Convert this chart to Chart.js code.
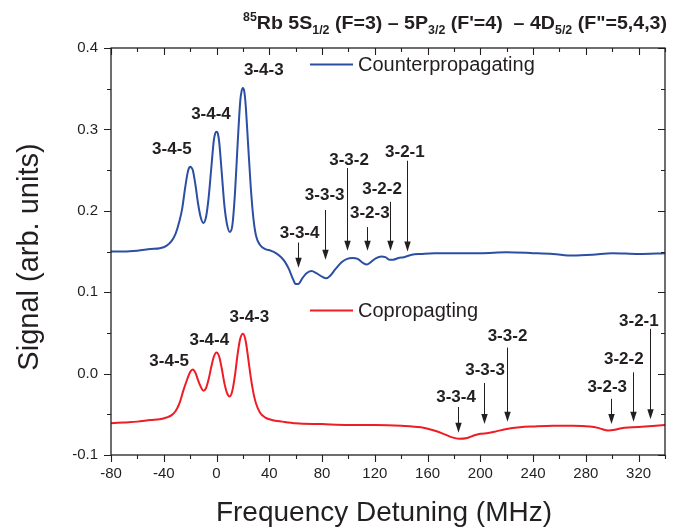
<!DOCTYPE html>
<html><head><meta charset="utf-8">
<script src="https://cdn.jsdelivr.net/npm/chart.js@4/dist/chart.umd.min.js"></script>
<style>html,body{margin:0;padding:0;background:#fff}#wrap{width:675px;height:532px}</style>
</head><body><div id="wrap"><canvas id="c" width="675" height="532"></canvas></div>
<script>
// ---- axis ticks ----
const xTicks = [-80, -40, 0, 40, 80, 120, 160, 200, 240, 280, 320];
const yTicks = [-0.1, 0.0, 0.1, 0.2, 0.3, 0.4];

// ---- Counterpropagating series ----
const freqCounter = [-80,-70,-60,-50,-43,-38,-34,-31,-28,-26,-24,-22,-21,-20,-19,-18,-16,-14,-12,-10,-8,-6,-4,-2,-1,0,1,2,4,6,8,10,12,14,16,18,19,20,21,22,24,26,28,30,33,37,41,45,49,52,55,58,60,62,65,68,72,76,80,83,86,90,95,99,103,107,111,114,117,121,125,128,131,134,138,142,148,155,165,180,200,220,240,255,270,285,300,320,340];
const signalCounter = [0.150,0.150,0.151,0.153,0.154,0.157,0.163,0.172,0.188,0.203,0.226,0.246,0.252,0.254,0.253,0.250,0.232,0.209,0.192,0.185,0.192,0.216,0.252,0.287,0.295,0.297,0.295,0.285,0.246,0.206,0.183,0.174,0.182,0.222,0.282,0.335,0.347,0.351,0.347,0.332,0.280,0.228,0.190,0.169,0.158,0.153,0.151,0.148,0.143,0.137,0.128,0.116,0.110,0.110,0.117,0.123,0.126,0.123,0.119,0.117,0.120,0.128,0.137,0.141,0.142,0.141,0.136,0.134,0.137,0.142,0.144,0.143,0.140,0.140,0.142,0.143,0.146,0.147,0.148,0.148,0.148,0.149,0.148,0.147,0.145,0.146,0.148,0.147,0.148];

// ---- Copropagating series ----
const freqCo = [-80,-70,-60,-50,-43,-38,-34,-31,-28,-25,-22,-20,-18,-16,-14,-12,-10,-8,-6,-4,-2,0,2,4,6,8,10,12,14,16,18,20,22,24,26,28,30,33,37,42,50,60,80,100,120,140,155,165,172,178,184,190,195,200,206,212,220,230,240,255,270,283,290,297,302,307,315,325,333,340];
const signalCo = [-0.061,-0.060,-0.059,-0.057,-0.056,-0.054,-0.051,-0.046,-0.036,-0.020,-0.006,0.002,0.005,0.001,-0.008,-0.016,-0.021,-0.018,-0.007,0.008,0.021,0.026,0.021,0.006,-0.012,-0.024,-0.028,-0.021,-0.002,0.024,0.043,0.049,0.041,0.019,-0.005,-0.024,-0.037,-0.048,-0.054,-0.057,-0.059,-0.061,-0.062,-0.063,-0.063,-0.064,-0.066,-0.070,-0.074,-0.078,-0.080,-0.079,-0.076,-0.074,-0.073,-0.071,-0.068,-0.066,-0.065,-0.064,-0.064,-0.065,-0.067,-0.070,-0.069,-0.067,-0.066,-0.065,-0.064,-0.063];

// ---- peak labels (text, MHz, signal) ----
const counterPeakText = ['3-4-5','3-4-4','3-4-3'];
const counterPeakX = [-33.8, -4.2, 35.8];
const counterPeakY = [0.275, 0.318, 0.372];
const coPeakText = ['3-4-5','3-4-4','3-4-3'];
const coPeakX = [-35.9, -5.5, 24.9];
const coPeakY = [0.015, 0.041, 0.069];

// ---- arrow annotations ----
const counterArrowText = ['3-3-4','3-3-3','3-3-2','3-2-3','3-2-2','3-2-1'];
const counterArrowX = [61.8, 82.0, 99.0, 114.3, 131.6, 144.3];
const counterArrowTop = [0.161, 0.201, 0.2525, 0.180, 0.211, 0.2615];
const counterArrowTip = [0.130, 0.140, 0.151, 0.151, 0.151, 0.150];
const counterArrowTextX = [63.0, 82.0, 100.5, 116.2, 125.5, 142.8];
const counterArrowTextY = [0.172, 0.219, 0.2615, 0.197, 0.2265, 0.272];

const coArrowText = ['3-3-4','3-3-3','3-3-2','3-2-3','3-2-2','3-2-1'];
const coArrowX = [183.0, 202.5, 220.3, 299.0, 316.0, 328.5];
const coArrowTop = [-0.041, -0.0115, 0.032, -0.031, 0.0016, 0.055];
const coArrowTip = [-0.0726, -0.062, -0.059, -0.062, -0.059, -0.056];
const coArrowTextX = [181.6, 203.6, 220.6, 296.2, 308.8, 320.2];
const coArrowTextY = [-0.029, 0.004, 0.046, -0.0165, 0.018, 0.0647];

const seriesNames = ['Counterpropagating', 'Copropagting'];
const seriesColors = ['#2c4fa3', '#ee1c24'];

const FONT = '"Liberation Sans", Arial, Helvetica, sans-serif';
const INK = '#231f20';

function pts(xs, ys){ return xs.map((x,i)=>({x:x, y:ys[i]})); }

const decor = {
  id: 'decor',
  afterDatasetsDraw(chart){
    const ctx = chart.ctx, a = chart.chartArea;
    const xs = chart.scales.x, ys = chart.scales.y;
    ctx.save();
    // frame
    ctx.strokeStyle = INK; ctx.lineWidth = 1.3;
    ctx.strokeRect(a.left, a.top, a.right - a.left, a.bottom - a.top);
    // ticks
    ctx.lineWidth = 1.1;
    ctx.beginPath();
    for (let v = xs.min; v <= xs.max + 1e-9; v += 20) {
      const major = xTicks.indexOf(v) >= 0;
      const L = major ? 7 : 4;
      const p = Math.round(xs.getPixelForValue(v)) + 0.5;
      ctx.moveTo(p, a.bottom); ctx.lineTo(p, a.bottom + L);
      ctx.moveTo(p, a.top); ctx.lineTo(p, a.top + L);
    }
    for (let k = 0; k <= 10; k++) {
      const v = ys.min + k * 0.05;
      const major = k % 2 === 0;
      const L = major ? 7 : 4;
      const p = Math.round(ys.getPixelForValue(v)) + 0.5;
      ctx.moveTo(a.left, p); ctx.lineTo(a.left - L, p);
      ctx.moveTo(a.right, p); ctx.lineTo(a.right - L, p);
    }
    ctx.stroke();

    // title (fit between x=243 and x=667)
    const segs = [
      {t:'85', k:'sup'}, {t:'Rb 5S'}, {t:'1/2', k:'sub'}, {t:' (F=3) \u2013 5P'},
      {t:'3/2', k:'sub'}, {t:' (F\'=4)  \u2013 4D'}, {t:'5/2', k:'sub'}, {t:' (F"=5,4,3)'}
    ];
    const big = 'bold 19px ' + FONT, small = 'bold 12px ' + FONT;
    let W = 0;
    segs.forEach(s => { ctx.font = s.k ? small : big; W += ctx.measureText(s.t).width; });
    ctx.save();
    ctx.translate(243, 29);
    ctx.scale(424 / W, 1);
    ctx.fillStyle = INK; ctx.textBaseline = 'alphabetic'; ctx.textAlign = 'left';
    let x = 0;
    segs.forEach(s => {
      ctx.font = s.k ? small : big;
      const dy = s.k === 'sub' ? 5 : (s.k === 'sup' ? -8 : 0);
      ctx.fillText(s.t, x, dy);
      x += ctx.measureText(s.t).width;
    });
    ctx.restore();

    // axis titles
    ctx.fillStyle = INK;
    ctx.font = '28px ' + FONT;
    ctx.textAlign = 'center'; ctx.textBaseline = 'middle';
    ctx.fillText('Frequency Detuning (MHz)', (a.left + a.right) / 2 - 4, 513);
    ctx.save();
    ctx.translate(30, 257); ctx.rotate(-Math.PI/2);
    ctx.font = '29px ' + FONT;
    ctx.fillText('Signal (arb. units)', 0, 0);
    ctx.restore();

    // legends
    const legY = [ys.getPixelForValue(0.380), ys.getPixelForValue(0.0785)];
    chart.data.datasets.forEach((d, i) => {
      const y = Math.round(legY[i]) + 0.5;
      ctx.strokeStyle = d.borderColor; ctx.lineWidth = 2;
      ctx.beginPath(); ctx.moveTo(310, y); ctx.lineTo(353, y); ctx.stroke();
      ctx.fillStyle = INK; ctx.font = '20px ' + FONT;
      ctx.textAlign = 'left'; ctx.textBaseline = 'middle';
      ctx.fillText(d.label, 358, y + 1);
    });

    // labels
    ctx.font = 'bold 17px ' + FONT;
    ctx.textAlign = 'center'; ctx.textBaseline = 'middle'; ctx.fillStyle = INK;
    const put = (txt, xv, yv) => txt.forEach((t, i) =>
      ctx.fillText(t, xs.getPixelForValue(xv[i]), ys.getPixelForValue(yv[i])));
    put(counterPeakText, counterPeakX, counterPeakY);
    put(coPeakText, coPeakX, coPeakY);
    put(counterArrowText, counterArrowTextX, counterArrowTextY);
    put(coArrowText, coArrowTextX, coArrowTextY);

    // arrows
    const arrows = (xv, top, tip) => xv.forEach((v, i) => {
      const px = Math.round(xs.getPixelForValue(v)) + 0.5;
      const y0 = ys.getPixelForValue(top[i]), y1 = ys.getPixelForValue(tip[i]);
      const head = 10, hw = 3.2;
      ctx.strokeStyle = INK; ctx.lineWidth = 1;
      ctx.beginPath(); ctx.moveTo(px, y0); ctx.lineTo(px, y1 - head + 1); ctx.stroke();
      ctx.beginPath(); ctx.moveTo(px - hw, y1 - head); ctx.lineTo(px + hw, y1 - head);
      ctx.lineTo(px, y1); ctx.closePath(); ctx.fillStyle = INK; ctx.fill();
    });
    arrows(counterArrowX, counterArrowTop, counterArrowTip);
    arrows(coArrowX, coArrowTop, coArrowTip);
    ctx.restore();
  }
};

new Chart(document.getElementById('c'), {
  type: 'line',
  data: {
    datasets: [
      { label: seriesNames[0], data: pts(freqCounter, signalCounter), borderColor: seriesColors[0], borderWidth: 2, pointRadius: 0, cubicInterpolationMode: 'monotone', fill: false },
      { label: seriesNames[1], data: pts(freqCo, signalCo), borderColor: seriesColors[1], borderWidth: 2, pointRadius: 0, cubicInterpolationMode: 'monotone', fill: false }
    ]
  },
  options: {
    responsive: false, animation: false, devicePixelRatio: 1,
    layout: { padding: { left: 0, right: 10, top: 48, bottom: 0 } },
    plugins: { legend: { display: false }, tooltip: { enabled: false }, title: { display: false } },
    scales: {
      x: {
        type: 'linear', min: -80, max: 340,
        afterBuildTicks: s => { s.ticks = xTicks.map(v => ({ value: v })); },
        afterFit: s => { s.height = 77; },
        grid: { display: false, drawTicks: false },
        border: { display: false },
        ticks: { font: { family: FONT, size: 15 }, color: INK, padding: 10, maxRotation: 0, autoSkip: false, callback: v => String(v) }
      },
      y: {
        type: 'linear', min: -0.1, max: 0.4,
        afterBuildTicks: s => { s.ticks = yTicks.map(v => ({ value: v })); },
        afterFit: s => { s.width = 111; },
        grid: { display: false, drawTicks: false },
        border: { display: false },
        ticks: { font: { family: FONT, size: 15 }, color: INK, padding: 13, autoSkip: false, callback: v => Number(v).toFixed(1) }
      }
    }
  },
  plugins: [decor]
});
</script></body></html>
